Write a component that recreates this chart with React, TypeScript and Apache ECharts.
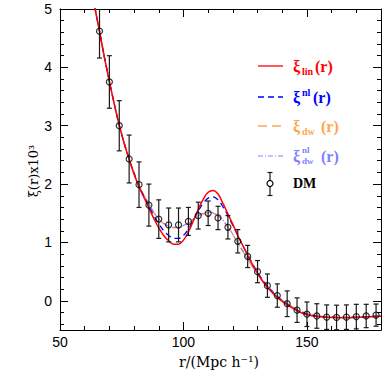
import React, { useEffect, useRef } from "react";
import * as echarts from "echarts";

// DM measurements
const R_DM = [66, 70, 74, 78, 82, 86, 90, 94, 98, 102, 106, 110, 114, 118, 122, 126, 130, 134, 138, 142, 146, 150, 154, 158, 162, 166, 170, 174, 178];
const XI_DM = [4.62, 3.75, 3.0, 2.43, 1.99, 1.64, 1.4, 1.3, 1.3, 1.36, 1.46, 1.5, 1.42, 1.26, 1.02, 0.76, 0.5, 0.26, 0.09, -0.05, -0.16, -0.23, -0.26, -0.28, -0.285, -0.28, -0.27, -0.26, -0.245];
const ERR_DM = [0.46, 0.45, 0.43, 0.41, 0.39, 0.36, 0.33, 0.29, 0.29, 0.24, 0.23, 0.21, 0.2, 0.2, 0.2, 0.19, 0.19, 0.2, 0.2, 0.22, 0.21, 0.21, 0.21, 0.21, 0.21, 0.21, 0.21, 0.2, 0.19];

// model curves
const R_CURVE = [62, 64, 66, 68, 70, 72, 74, 76, 78, 80, 82, 84, 86, 88, 90, 92, 94, 96, 98, 100, 102, 104, 106, 108, 110, 112, 114, 116, 118, 120, 122, 124, 126, 128, 130, 132, 134, 136, 138, 140, 142, 144, 146, 148, 150, 155, 160, 165, 170, 175, 180];
const XI_LIN = [5.55, 5.05, 4.62, 4.17, 3.76, 3.37, 3.01, 2.7, 2.42, 2.17, 1.95, 1.77, 1.59, 1.41, 1.25, 1.12, 1.03, 0.97, 0.97, 1.04, 1.18, 1.37, 1.57, 1.74, 1.86, 1.89, 1.83, 1.67, 1.49, 1.31, 1.12, 0.95, 0.78, 0.62, 0.47, 0.34, 0.23, 0.14, 0.06, -0.01, -0.07, -0.12, -0.17, -0.21, -0.24, -0.275, -0.285, -0.29, -0.285, -0.275, -0.265];
const XI_NL = [5.55, 5.05, 4.62, 4.17, 3.76, 3.37, 3.01, 2.7, 2.43, 2.18, 1.96, 1.79, 1.62, 1.46, 1.32, 1.2, 1.12, 1.07, 1.07, 1.12, 1.23, 1.38, 1.54, 1.67, 1.76, 1.78, 1.73, 1.61, 1.46, 1.29, 1.12, 0.95, 0.79, 0.63, 0.49, 0.36, 0.25, 0.15, 0.07, 0.0, -0.06, -0.11, -0.16, -0.2, -0.23, -0.27, -0.28, -0.285, -0.28, -0.27, -0.26];
const XI_DW = [5.55, 5.05, 4.62, 4.17, 3.76, 3.37, 3.01, 2.7, 2.43, 2.19, 1.98, 1.81, 1.65, 1.51, 1.4, 1.32, 1.27, 1.25, 1.25, 1.28, 1.33, 1.39, 1.45, 1.49, 1.51, 1.5, 1.45, 1.37, 1.26, 1.13, 0.99, 0.85, 0.71, 0.58, 0.46, 0.35, 0.25, 0.16, 0.08, 0.01, -0.05, -0.1, -0.15, -0.19, -0.22, -0.26, -0.28, -0.285, -0.28, -0.27, -0.26];
const XI_DW_NL = [5.55, 5.05, 4.62, 4.17, 3.76, 3.37, 3.01, 2.7, 2.43, 2.19, 1.98, 1.81, 1.66, 1.52, 1.41, 1.33, 1.28, 1.26, 1.26, 1.29, 1.34, 1.4, 1.46, 1.5, 1.52, 1.51, 1.46, 1.38, 1.27, 1.14, 1.0, 0.86, 0.72, 0.59, 0.47, 0.36, 0.26, 0.17, 0.09, 0.02, -0.04, -0.1, -0.15, -0.19, -0.22, -0.26, -0.28, -0.285, -0.28, -0.27, -0.26];

// axis ticks
const X_MAJOR = [50, 100, 150];
const X_MINOR = [60, 70, 80, 90, 110, 120, 130, 140, 160, 170];
const Y_MAJOR = [0, 1, 2, 3, 4, 5];
const Y_MINOR = [-0.4, -0.2, 0.2, 0.4, 0.6, 0.8, 1.2, 1.4, 1.6, 1.8, 2.2, 2.4, 2.6, 2.8, 3.2, 3.4, 3.6, 3.8, 4.2, 4.4, 4.6, 4.8];

const X_MIN = 50;
const X_MAX = 180;
const Y_MIN = -0.5;
const Y_MAX = 5;

const RED = "#ff0000";
const BLUE = "#0000ff";
const ORANGE = "#ffa64d";
const LAV = "#8080ff";

export default function App() {
  const ref = useRef<HTMLDivElement>(null);
  useEffect(() => {
    if (!ref.current) return;
    const chart = echarts.init(ref.current, null, { renderer: "svg" });
    const gridBox = { left: 60, right: 9, top: 9, bottom: 60 };
    const tickStyle = { color: "#000", width: 1 };
    const mkX = (gridIndex: number, position: string, major: boolean) => ({
      type: "value",
      gridIndex,
      position,
      min: X_MIN,
      max: X_MAX,
      axisLine: { show: major, onZero: false, lineStyle: { color: "#000", width: 1 } },
      axisTick: { show: true, inside: true, length: major ? 8 : 4, customValues: major ? X_MAJOR : X_MINOR, lineStyle: tickStyle },
      axisLabel: {
        show: major && position === "bottom",
        customValues: X_MAJOR,
        fontFamily: "Liberation Sans",
        fontSize: 14,
        color: "#000",
        margin: 5,
      },
      splitLine: { show: false },
    });
    const mkY = (gridIndex: number, position: string, major: boolean) => ({
      type: "value",
      gridIndex,
      position,
      min: Y_MIN,
      max: Y_MAX,
      axisLine: { show: major, onZero: false, lineStyle: { color: "#000", width: 1 } },
      axisTick: { show: true, inside: true, length: major ? 8 : 4, customValues: major ? Y_MAJOR : Y_MINOR, lineStyle: tickStyle },
      axisLabel: {
        show: major && position === "left",
        customValues: Y_MAJOR,
        fontFamily: "Liberation Sans",
        fontSize: 14,
        color: "#000",
        margin: 8,
      },
      splitLine: { show: false },
    });

    const curve = (name: string, ys: number[], color: string, type: any, width: number) => ({
      name,
      type: "line",
      xAxisIndex: 0,
      yAxisIndex: 0,
      data: R_CURVE.map((r, i) => [r, ys[i]]),
      showSymbol: false,
      smooth: 0.4,
      clip: true,
      lineStyle: { color, width, type },
      z: 3,
    });

    const errData = R_DM.map((r, i) => [r, XI_DM[i] - ERR_DM[i], XI_DM[i] + ERR_DM[i]]);

    const legendRows = [66, 97, 126, 156, 183];
    const lx1 = 258;
    const lx2 = 283;
    const serif = "Liberation Serif";
    const txt = (text: string, x: number, y: number, fill: string, size: number) => ({
      type: "text",
      x,
      y,
      z: 10,
      style: { text, fill, fontFamily: serif, fontSize: size, fontWeight: "bold", align: "left", verticalAlign: "middle" },
    });

    chart.setOption({
      animation: false,
      backgroundColor: "#fff",
      grid: [gridBox, gridBox, gridBox, gridBox],
      xAxis: [mkX(0, "bottom", true), mkX(1, "bottom", false), mkX(2, "top", true), mkX(3, "top", false)],
      yAxis: [mkY(0, "left", true), mkY(1, "left", false), mkY(2, "right", true), mkY(3, "right", false)],
      series: [
        curve("dw", XI_DW, ORANGE, [10, 5], 1.5),
        curve("dwnl", XI_DW_NL, LAV, [5, 2, 1, 2], 1.1),
        curve("nl", XI_NL, BLUE, [6, 4], 1.3),
        curve("lin", XI_LIN, RED, "solid", 1.5),
        {
          type: "custom",
          xAxisIndex: 0,
          yAxisIndex: 0,
          clip: true,
          data: errData,
          z: 4,
          renderItem: (params: any, api: any) => {
            const x = api.value(0);
            const pLo = api.coord([x, api.value(1)]);
            const pHi = api.coord([x, api.value(2)]);
            const w = 2.5;
            const st = { stroke: "#1a1a1a", lineWidth: 1.2 };
            return {
              type: "group",
              children: [
                { type: "line", shape: { x1: pLo[0], y1: pLo[1], x2: pHi[0], y2: pHi[1] }, style: st },
                { type: "line", shape: { x1: pLo[0] - w, y1: pLo[1], x2: pLo[0] + w, y2: pLo[1] }, style: st },
                { type: "line", shape: { x1: pHi[0] - w, y1: pHi[1], x2: pHi[0] + w, y2: pHi[1] }, style: st },
              ],
            };
          },
        },
        {
          type: "scatter",
          xAxisIndex: 0,
          yAxisIndex: 0,
          data: R_DM.map((r, i) => [r, XI_DM[i]]),
          symbol: "circle",
          symbolSize: 6,
          clip: true,
          itemStyle: { color: "rgba(0,0,0,0)", borderColor: "#000", borderWidth: 1.2 },
          z: 5,
        },
      ],
      graphic: [
        // legend icons
        { type: "line", shape: { x1: lx1, y1: legendRows[0], x2: lx2, y2: legendRows[0] }, style: { stroke: RED, lineWidth: 1.3 } },
        { type: "line", shape: { x1: lx1, y1: legendRows[1], x2: lx2, y2: legendRows[1] }, style: { stroke: BLUE, lineWidth: 1.3, lineDash: [6, 4] } },
        { type: "line", shape: { x1: lx1, y1: legendRows[2], x2: lx2, y2: legendRows[2] }, style: { stroke: ORANGE, lineWidth: 1.5, lineDash: [9, 5] } },
        { type: "line", shape: { x1: lx1, y1: legendRows[3], x2: lx2, y2: legendRows[3] }, style: { stroke: LAV, lineWidth: 1.1, lineDash: [5, 2, 1, 2] } },
        { type: "line", shape: { x1: 270, y1: 172.5, x2: 270, y2: 195.5 }, style: { stroke: "#1a1a1a", lineWidth: 1.2 } },
        { type: "line", shape: { x1: 267.5, y1: 172.5, x2: 272.5, y2: 172.5 }, style: { stroke: "#1a1a1a", lineWidth: 1.2 } },
        { type: "line", shape: { x1: 267.5, y1: 195.5, x2: 272.5, y2: 195.5 }, style: { stroke: "#1a1a1a", lineWidth: 1.2 } },
        { type: "circle", shape: { cx: 270, cy: 183.5, r: 3 }, style: { fill: "#fff", stroke: "#000", lineWidth: 1.2 } },
        // legend texts
        txt("ξ", 293, legendRows[0], RED, 16),
        txt("lin", 302, legendRows[0] + 5, RED, 10),
        txt("(r)", 315, legendRows[0], RED, 16),
        txt("ξ", 293, legendRows[1], BLUE, 16),
        txt("nl", 302, legendRows[1] - 5, BLUE, 10),
        txt("(r)", 313, legendRows[1], BLUE, 16),
        txt("ξ", 293, legendRows[2], ORANGE, 16),
        txt("dw", 302, legendRows[2] + 5, ORANGE, 10),
        txt("(r)", 321, legendRows[2], ORANGE, 16),
        txt("ξ", 293, legendRows[3], LAV, 16),
        txt("nl", 302, legendRows[3] - 6.5, LAV, 9),
        txt("dw", 302, legendRows[3] + 5, LAV, 9),
        txt("(r)", 321, legendRows[3], LAV, 16),
        txt("DM", 293, legendRows[4], "#000", 14),
        // axis names
        {
          type: "text",
          x: 219,
          y: 362,
          style: { text: "r/(Mpc h⁻¹)", fill: "#000", fontFamily: "DejaVu Serif", fontSize: 14, align: "center", verticalAlign: "middle" },
        },
        {
          type: "text",
          x: 33,
          y: 171,
          rotation: Math.PI / 2,
          style: { text: "ξ(r)x10³", fill: "#000", fontFamily: "DejaVu Serif", fontSize: 13, align: "center", verticalAlign: "middle" },
        },
      ],
    });
    return () => chart.dispose();
  }, []);
  return <div ref={ref} style={{ position: "fixed", left: 0, top: 0, width: 390, height: 390 }} />;
}
